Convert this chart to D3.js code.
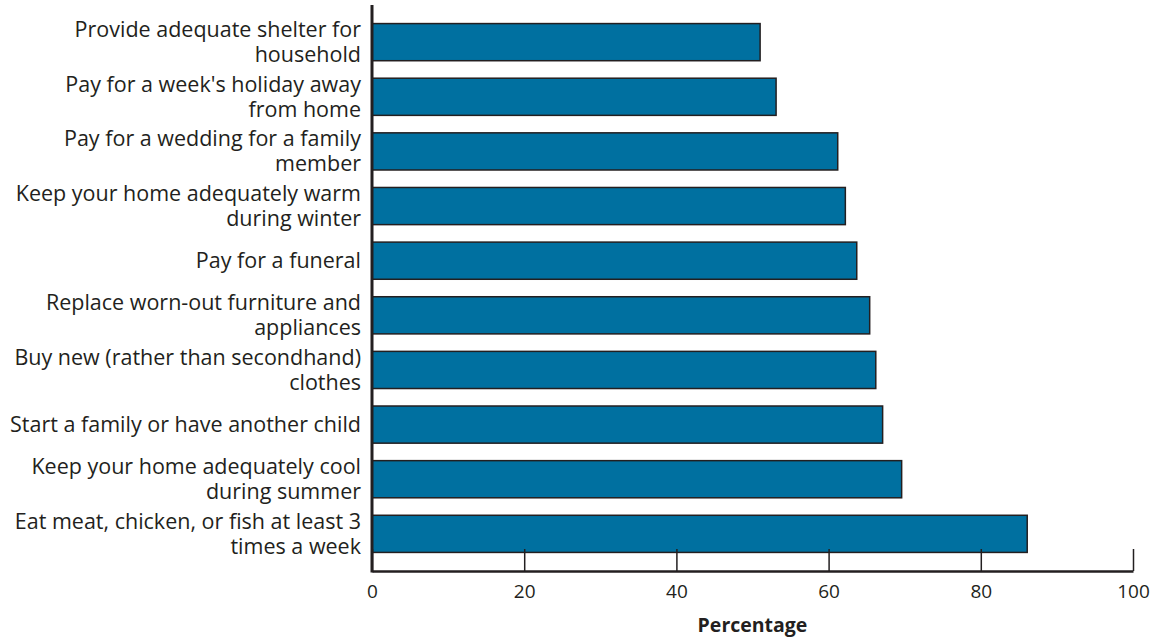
<!DOCTYPE html>
<html><head><meta charset="utf-8">
<script src="https://cdn.jsdelivr.net/npm/d3@7"></script>
<style>body{margin:0;background:#fff}svg{display:block}text{font-family:"Open Sans","Noto Sans",sans-serif;fill:#231f20}</style>
</head><body><svg id="c" width="1153" height="641"></svg>
<script>
const categories = [
  "Provide adequate shelter for\nhousehold",
  "Pay for a week's holiday away\nfrom home",
  "Pay for a wedding for a family\nmember",
  "Keep your home adequately warm\nduring winter",
  "Pay for a funeral",
  "Replace worn-out furniture and\nappliances",
  "Buy new (rather than secondhand)\nclothes",
  "Start a family or have another child",
  "Keep your home adequately cool\nduring summer",
  "Eat meat, chicken, or fish at least 3\ntimes a week"
];
const values = [51.0, 53.1, 61.2, 62.2, 63.7, 65.4, 66.2, 67.1, 69.6, 86.1];
const xTicks = [0, 20, 40, 60, 80, 100];
const xTitle = "Percentage";

const svg = d3.select("#c");
const x = d3.scaleLinear().domain([0, 100]).range([372, 1133]);
const y = d3.scaleBand().domain(categories).range([5, 571]).paddingInner(0.32).paddingOuter(0.34);

// bars
svg.append("g").selectAll("rect").data(values).join("rect")
  .attr("x", x(0)).attr("y", (d, i) => y(categories[i]))
  .attr("width", d => x(d) - x(0)).attr("height", y.bandwidth())
  .attr("fill", "#0070a0").attr("stroke", "#231f20").attr("stroke-width", 1.5);

// y axis labels
const yl = svg.append("g").selectAll("text").data(categories).join("text")
  .attr("text-anchor", "end").attr("font-size", 21.5);
yl.each(function(d) {
  const lines = d.split("\n");
  const cy = y(d) + y.bandwidth() / 2;
  const lh = 25;
  const t = d3.select(this);
  lines.forEach((ln, k) => {
    t.append("tspan").attr("x", 361)
      .attr("y", cy + (k - (lines.length - 1) / 2) * lh)
      .attr("dy", "0.35em").text(ln);
  });
});

// x axis
const xa = d3.axisBottom(x).tickValues(xTicks).tickSizeInner(-22).tickSizeOuter(0).tickPadding(27);
const gx = svg.append("g").attr("transform", "translate(0,571)").call(xa);
gx.select(".domain").attr("stroke", "#231f20").attr("stroke-width", 2.5);
gx.selectAll(".tick line").attr("stroke", "#231f20").attr("stroke-width", 1.5);
gx.selectAll(".tick text").attr("font-size", 19).attr("fill", "#231f20")
  .attr("font-family", '"Open Sans","Noto Sans",sans-serif').attr("dy", "0");

// left axis line
svg.append("line").attr("x1", 372).attr("x2", 372).attr("y1", 5).attr("y2", 572.5)
  .attr("stroke", "#231f20").attr("stroke-width", 3);

svg.append("text").attr("x", (x(0) + x(100)) / 2).attr("y", 632).attr("text-anchor", "middle")
  .attr("font-size", 19.5).attr("font-weight", "bold").text(xTitle);
</script></body></html>
